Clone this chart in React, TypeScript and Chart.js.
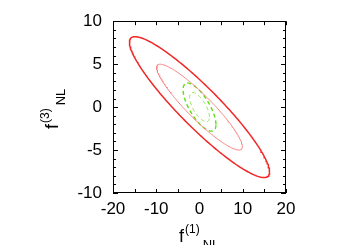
import React, { useEffect, useRef } from "react";
import { Chart, registerables } from "chart.js";

Chart.register(...registerables);

// Forecast ellipse parameters (1-sigma widths and correlation)
const ellipseLabels = ["outer red", "inner red", "outer green", "inner green"];
const sigmaF1 = [16.2, 9.9, 3.8, 2.3];
const sigmaF3 = [8.2, 5.0, 2.8, 1.7];
const corr = [-0.92, -0.92, -0.72, -0.68];

const xTickValues = [-20, -10, 0, 10, 20];
const yTickValues = [-10, -5, 0, 5, 10];
const xMinorStep = 5;
const yMinorStep = 1;

function ellipsePoints(s1: number, s3: number, r: number) {
  const pts: { x: number; y: number }[] = [];
  const n = 240;
  const q = Math.sqrt(1 - r * r);
  for (let i = 0; i <= n; i++) {
    const t = (2 * Math.PI * i) / n;
    pts.push({ x: s1 * Math.cos(t), y: s3 * (r * Math.cos(t) + q * Math.sin(t)) });
  }
  return pts;
}

const FONT = "'Liberation Sans', Arial, Helvetica, sans-serif";

const frameTicks = {
  id: "frameTicks",
  afterDraw(chart: any) {
    const { ctx, chartArea: a, scales } = chart;
    const xs = scales.x;
    const ys = scales.y;
    ctx.save();
    ctx.strokeStyle = "#000";
    ctx.lineWidth = 1;
    ctx.beginPath();
    for (let v = -20; v <= 20; v += xMinorStep) {
      const px = Math.round(xs.getPixelForValue(v)) + 0.5;
      const len = 4;
      ctx.moveTo(px, a.bottom);
      ctx.lineTo(px, a.bottom - len);
      ctx.moveTo(px, a.top);
      ctx.lineTo(px, a.top + len);
    }
    for (let v = -10; v <= 10; v += yMinorStep) {
      const py = Math.round(ys.getPixelForValue(v)) + 0.5;
      const len = v % 5 === 0 ? 5 : 3;
      ctx.moveTo(a.left, py);
      ctx.lineTo(a.left + len, py);
      ctx.moveTo(a.right, py);
      ctx.lineTo(a.right - len, py);
    }
    ctx.stroke();
    ctx.strokeRect(Math.round(a.left) + 0.5, Math.round(a.top) + 0.5, Math.round(a.right - a.left) - 1, Math.round(a.bottom - a.top) - 1);

    // axis titles with super/subscripts
    const drawLabel = (sup: string) => {
      ctx.fillStyle = "#000";
      ctx.textBaseline = "alphabetic";
      ctx.textAlign = "left";
      ctx.font = `18px ${FONT}`;
      ctx.fillText("f", 0, 0);
      const fw = ctx.measureText("f").width;
      ctx.font = `12px ${FONT}`;
      ctx.fillText(sup, fw + 1, -9);
      const sw = ctx.measureText(sup).width;
      ctx.font = `13px ${FONT}`;
      ctx.fillText("NL", fw + sw + 4, 7);
    };
    ctx.save();
    ctx.translate(179, 242);
    drawLabel("(1)");
    ctx.restore();
    ctx.save();
    ctx.translate(58, 129);
    ctx.rotate(-Math.PI / 2);
    drawLabel("(3)");
    ctx.restore();
    ctx.restore();
  },
};

export default function App() {
  const ref = useRef<HTMLCanvasElement | null>(null);
  useEffect(() => {
    if (!ref.current) return;
    const styles = [
      { c: "#f02828", w: 1.5, d: [] as number[] },
      { c: "#f88080", w: 1, d: [] as number[] },
      { c: "#5ede10", w: 1.4, d: [4, 3] },
      { c: "#80e040", w: 1, d: [4, 3] },
    ];
    const datasets = ellipseLabels.map((lab, i) => ({
      label: lab,
      data: ellipsePoints(sigmaF1[i], sigmaF3[i], corr[i]),
      showLine: true,
      pointRadius: 0,
      borderColor: styles[i].c,
      borderWidth: styles[i].w,
      borderDash: styles[i].d,
      fill: false,
      tension: 0,
    }));
    const chart = new Chart(ref.current, {
      type: "scatter",
      data: { datasets },
      options: {
        responsive: false,
        animation: false,
        layout: { padding: { left: 0, top: 19, right: 64, bottom: 0 } },
        plugins: { legend: { display: false }, tooltip: { enabled: false } },
        scales: {
          x: {
            type: "linear",
            min: -20,
            max: 20,
            afterBuildTicks: (s: any) => {
              s.ticks = xTickValues.map((v) => ({ value: v }));
            },
            afterFit: (s: any) => {
              s.height = 52;
            },
            grid: { display: false, drawTicks: false },
            border: { display: false },
            ticks: { color: "#000", font: { size: 17, family: FONT }, padding: 6, maxRotation: 0 },
          },
          y: {
            type: "linear",
            min: -10,
            max: 10,
            afterBuildTicks: (s: any) => {
              s.ticks = yTickValues.map((v) => ({ value: v }));
            },
            afterFit: (s: any) => {
              s.width = 113;
            },
            grid: { display: false, drawTicks: false },
            border: { display: false },
            ticks: { color: "#000", font: { size: 17, family: FONT }, padding: 11 },
          },
        },
      },
      plugins: [frameTicks],
    } as any);
    return () => chart.destroy();
  }, []);
  return (
    <div style={{ position: "absolute", left: 0, top: 0, width: 350, height: 245, background: "#fff" }}>
      <canvas ref={ref} width={350} height={245} style={{ display: "block" }} />
    </div>
  );
}
